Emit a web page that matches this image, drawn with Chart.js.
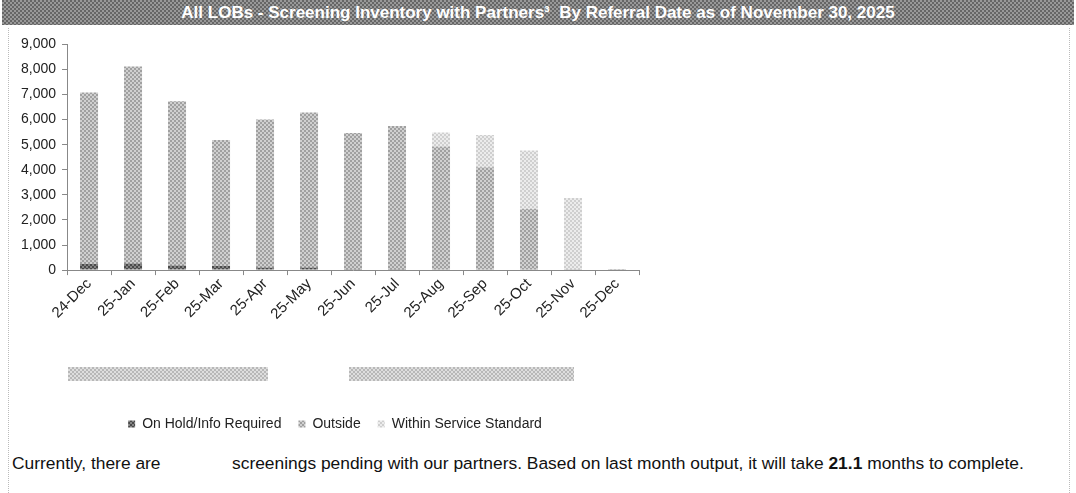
<!DOCTYPE html>
<html>
<head>
<meta charset="utf-8">
<script src="https://cdn.jsdelivr.net/npm/chart.js@4.4.1/dist/chart.umd.min.js"></script>
<style>
body { margin:0; background:#fff; font-family: Arial, "Liberation Sans", sans-serif; }
#wrap { position:relative; width:1076px; height:493px; overflow:hidden; }
#title { position:absolute; left:2px; top:0; width:1072px; height:25px; color:#fff; font-weight:bold; font-size:17px; line-height:25px; text-align:center; }
#chartbox { position:absolute; left:0; top:30px; width:672px; height:415px; }
.edge { position:absolute; top:28px; height:465px; width:0; border-left:1px dotted #bbb; }
.blk { position:absolute; top:367px; height:14px; }
.note { position:absolute; top:453px; font-size:17.4px; color:#111; white-space:nowrap; }
</style>
</head>
<body>
<div id="wrap">
  <div id="title">All LOBs - Screening Inventory with Partners³&nbsp; By Referral Date as of November 30, 2025</div>
  <div class="edge" style="left:8px"></div>
  <div class="edge" style="left:1069px"></div>
  <div id="chartbox"><canvas id="barChart" width="672" height="415"></canvas></div>
  <div class="blk" id="blk1" style="left:68px;width:200px"></div>
  <div class="blk" id="blk2" style="left:349px;width:225px"></div>
  <div class="note" style="left:12px">Currently, there are</div>
  <div class="note" style="left:232px">screenings pending with our partners. Based on last month output, it will take <b>21.1</b> months to complete.</div>
</div>
<script>
var months = ['24-Dec','25-Jan','25-Feb','25-Mar','25-Apr','25-May','25-Jun','25-Jul','25-Aug','25-Sep','25-Oct','25-Nov','25-Dec'];
var onHold = [240, 265, 185, 160, 105, 105, 40, 40, 35, 35, 35, 35, 10];
var outside = [6840, 7855, 6550, 5030, 5900, 6180, 5430, 5710, 4890, 4065, 2400, 0, 0];
var within = [0, 0, 0, 0, 0, 0, 0, 0, 560, 1290, 2330, 2840, 10];

// 2px checker cells, like the dotted fills of the original
function checkerCanvas(c1, c2) {
    var cv = document.createElement('canvas');
    cv.width = 4; cv.height = 4;
    var g = cv.getContext('2d');
    g.fillStyle = c2; g.fillRect(0, 0, 4, 4);
    g.fillStyle = c1; g.fillRect(0, 0, 2, 2); g.fillRect(2, 2, 2, 2);
    return cv;
}
function checker(c1, c2) {
    return ctx1.createPattern(checkerCanvas(c1, c2), 'repeat');
}
function cssChecker(el, c1, c2) {
    el.style.backgroundImage = 'url(' + checkerCanvas(c1, c2).toDataURL() + ')';
    el.style.backgroundRepeat = 'repeat';
}
cssChecker(document.getElementById('title'), '#666', '#999');
cssChecker(document.getElementById('blk1'), '#b8b8b8', '#dedede');
cssChecker(document.getElementById('blk2'), '#b8b8b8', '#dedede');

// nudge the legend a bit to the right, the way it sits in the original
var legendShift = {
    id: 'legendShift',
    afterLayout: function(chart) {
        chart.legend.left += 8;
        chart.legend.right += 8;
    }
};

var ctx1 = document.getElementById('barChart').getContext('2d');
var fontFam = 'Arial, "Liberation Sans", sans-serif';
var myChart1 = new Chart(ctx1, {
    type: 'bar',
    data: {
        labels: months,
        datasets: [
            { label: 'On Hold/Info Required', data: onHold, backgroundColor: checker('#4a4a4a', '#858585') },
            { label: 'Outside', data: outside, backgroundColor: checker('#a0a0a0', '#d0d0d0') },
            { label: 'Within Service Standard', data: within, backgroundColor: checker('#cfcfcf', '#ececec') }
        ]
    },
    options: {
        responsive: false,
        animation: false,
        layout: { padding: { top: 12, left: 15, right: 33, bottom: 4 } },
        datasets: { bar: { barPercentage: 0.41, categoryPercentage: 1 } },
        plugins: {
            tooltip: { enabled: false },
            legend: {
                position: 'bottom',
                title: { display: true, text: ' ', padding: { top: 72, bottom: 0 }, font: { size: 4 } },
                labels: { boxWidth: 7, boxHeight: 7, padding: 17, color: '#222', font: { family: fontFam, size: 14 } }
            }
        },
        scales: {
            x: {
                stacked: true,
                offset: true,
                border: { color: '#888' },
                grid: { display: true, drawOnChartArea: false, offset: true, tickLength: 5, color: '#888' },
                ticks: { maxRotation: 45, minRotation: 45, color: '#222', padding: 0, font: { family: fontFam, size: 15 } }
            },
            y: {
                stacked: true,
                min: 0, max: 9000,
                border: { color: '#888' },
                grid: { display: true, drawOnChartArea: false, tickLength: 5, color: '#888' },
                ticks: { stepSize: 1000, color: '#222', padding: 6, font: { family: fontFam, size: 14 },
                    callback: function(v) { return v.toLocaleString('en-US'); } }
            }
        }
    },
    plugins: [legendShift]
});
</script>
</body>
</html>
